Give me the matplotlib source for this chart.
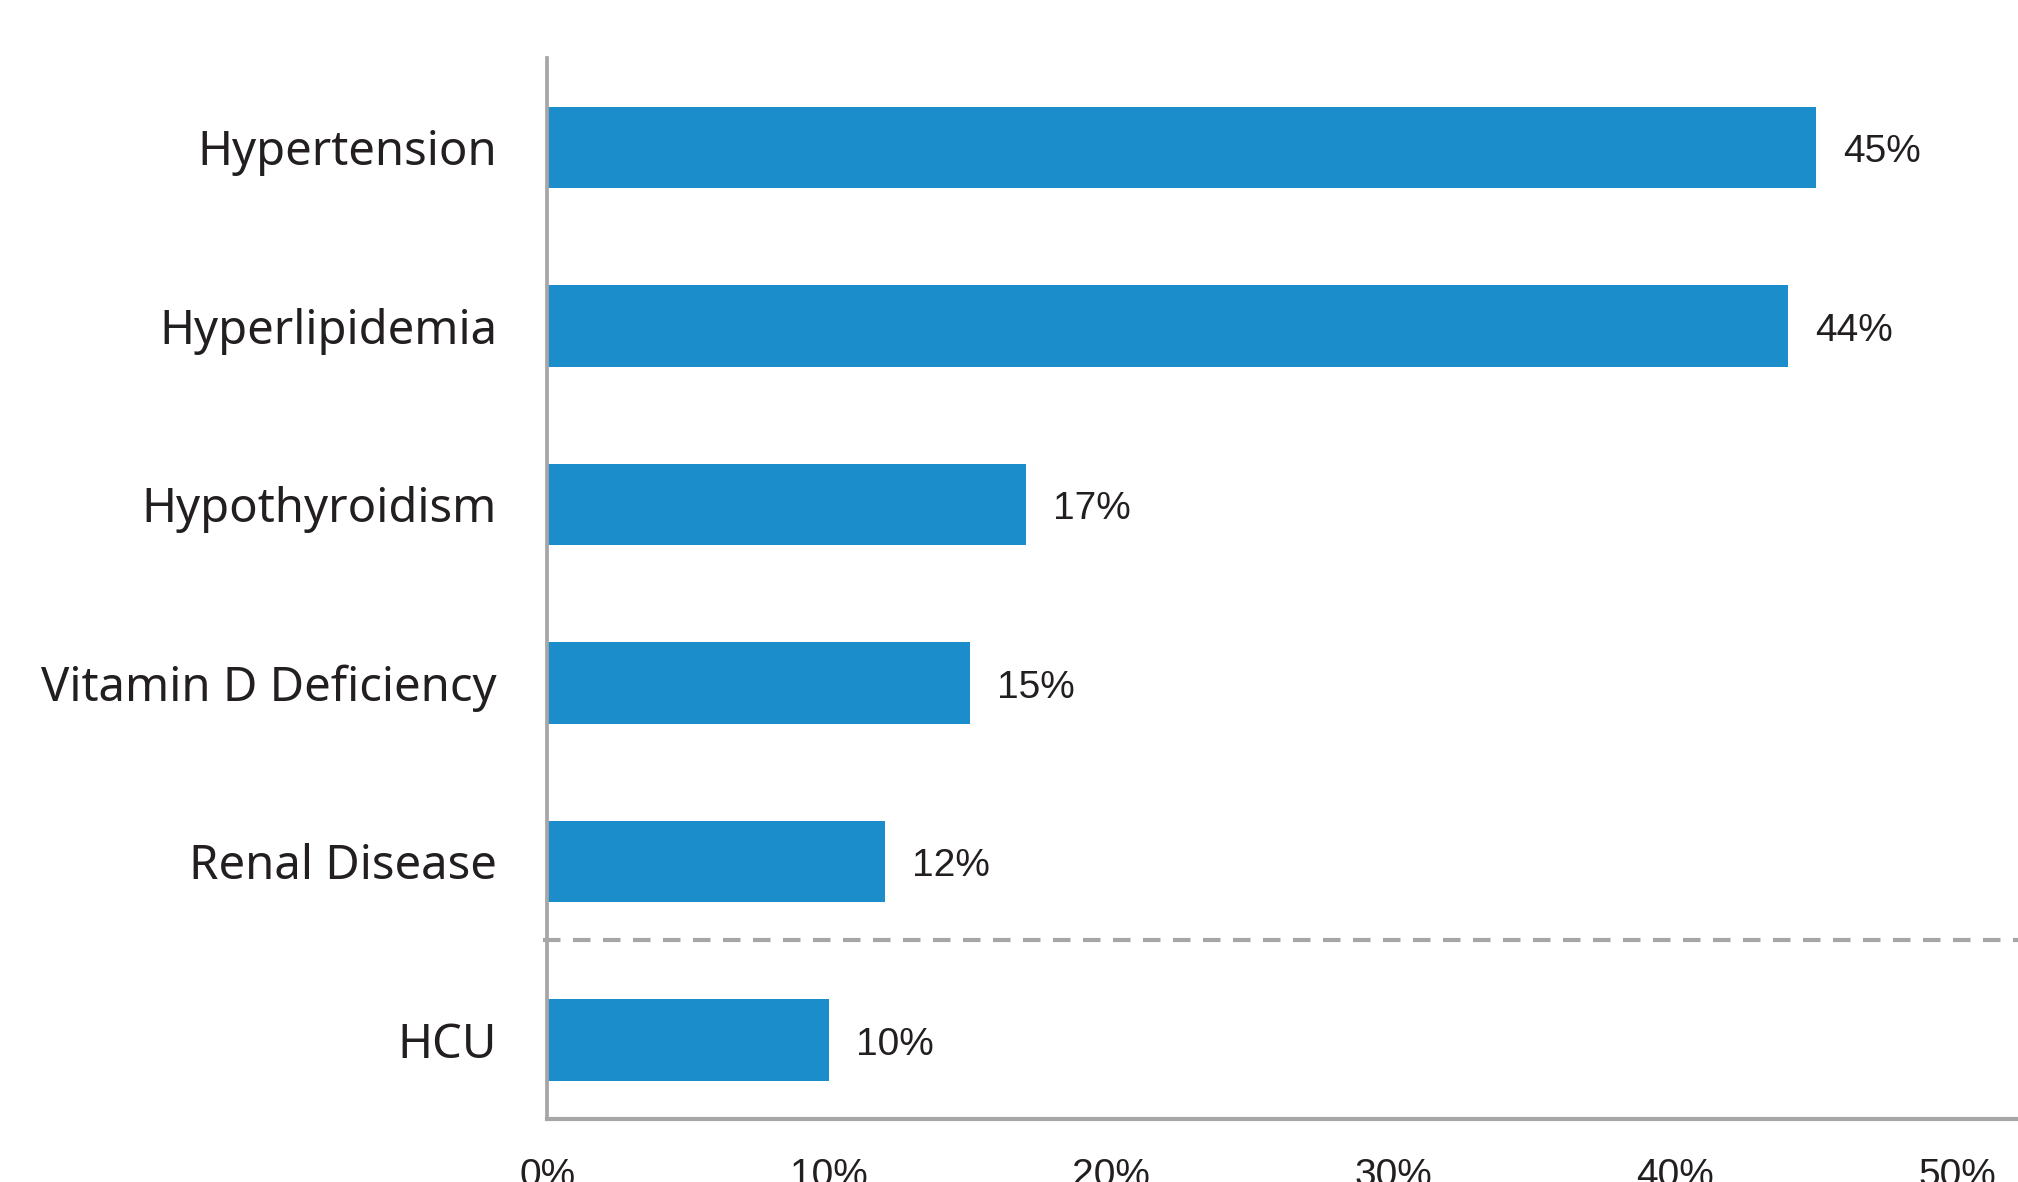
"""Horizontal bar chart: prevalence of comorbidities (share of patients)."""

import matplotlib

matplotlib.use("Agg")
import matplotlib.pyplot as plt
from matplotlib.ticker import FuncFormatter

CATEGORIES = [
    "Hypertension",
    "Hyperlipidemia",
    "Hypothyroidism",
    "Vitamin D Deficiency",
    "Renal Disease",
    "HCU",
]
VALUES = [45, 44, 17, 15, 12, 10]
X_TICKS = [0, 10, 20, 30, 40, 50]
SEPARATOR_AFTER = 4.44  # dashed line between "Renal Disease" and "HCU"

BAR_COLOR = "#1a8dca"
AXIS_COLOR = "#a6a6a6"
TEXT_COLOR = "#231f20"
OUTPUT = "out.png"


def main():
    fig = plt.figure(figsize=(20.18, 11.82), dpi=100)
    ax = fig.add_axes([0.2711, 0.0533, 0.7289, 0.8976])

    positions = list(range(len(CATEGORIES)))
    ax.barh(positions, VALUES, height=0.457, color=BAR_COLOR, zorder=2)

    for pos, value in zip(positions, VALUES):
        ax.annotate(
            f"{value}%",
            (value, pos),
            xytext=(27, -5),
            textcoords="offset pixels",
            va="center",
            ha="left",
            fontsize=28,
            family="Liberation Sans",
            color=TEXT_COLOR,
        )

    ax.axhline(
        SEPARATOR_AFTER,
        xmin=-0.003,
        color=AXIS_COLOR,
        linewidth=3.0,
        dashes=(4.2, 3.0),
        clip_on=False,
        zorder=1,
    )

    ax.set_xlim(0, 52.16)
    ax.set_ylim(5.443, -0.5)

    ax.set_yticks(positions, CATEGORIES)
    ax.tick_params(axis="y", length=0, pad=36, labelsize=34, labelcolor=TEXT_COLOR)
    for label in ax.get_yticklabels():
        label.set_family("Noto Sans")

    ax.set_xticks(X_TICKS)
    ax.xaxis.set_major_formatter(FuncFormatter(lambda v, _: f"{v:.0f}%"))
    ax.tick_params(axis="x", length=0, pad=28, labelsize=28, labelcolor=TEXT_COLOR)
    for label in ax.get_xticklabels():
        label.set_family("Liberation Sans")
    ax.set_xticks([0], minor=True)
    ax.tick_params(axis="x", which="minor", length=7.5, width=2.7, color=AXIS_COLOR)

    for side in ("top", "right"):
        ax.spines[side].set_visible(False)
    ax.spines["left"].set_color(AXIS_COLOR)
    ax.spines["left"].set_linewidth(2.7)
    ax.spines["bottom"].set_color(AXIS_COLOR)
    ax.spines["bottom"].set_linewidth(3.0)

    fig.savefig(OUTPUT, dpi=100, facecolor="white")


if __name__ == "__main__":
    main()
